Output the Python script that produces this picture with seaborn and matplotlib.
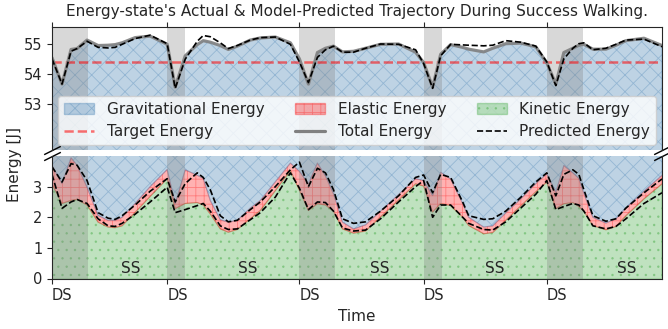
import numpy as np
import pandas as pd
import matplotlib
matplotlib.use("Agg")
import matplotlib.pyplot as plt
import seaborn as sns
from matplotlib.patches import Patch
from matplotlib.lines import Line2D

# ---------------- data ----------------
time = [0.00, 0.10, 0.19, 0.25, 0.35, 0.46, 0.56, 0.63, 0.70, 0.83, 0.98, 1.15,
        1.23, 1.33, 1.45, 1.51, 1.58, 1.68, 1.76, 1.85, 1.98, 2.08, 2.23, 2.38,
        2.47, 2.56, 2.65, 2.73, 2.81, 2.90, 3.01, 3.13, 3.28, 3.46, 3.63, 3.71,
        3.80, 3.88, 3.98, 4.10, 4.16, 4.31, 4.40, 4.53, 4.68, 4.83, 4.94, 5.03,
        5.11, 5.20, 5.26, 5.31, 5.40, 5.53, 5.63, 5.73, 5.91, 6.09]

kinetic_energy = [3.09, 2.45, 2.55, 2.58, 2.40, 1.84, 1.68, 1.66, 1.72, 2.16, 2.68, 3.26,
                  2.28, 2.45, 2.48, 2.40, 2.11, 1.62, 1.51, 1.60, 1.95, 2.22, 2.87, 3.53,
                  2.88, 2.22, 2.44, 2.40, 2.20, 1.62, 1.48, 1.55, 2.01, 2.56, 3.09, 3.02,
                  2.17, 2.45, 2.38, 2.00, 1.73, 1.46, 1.50, 1.90, 2.37, 2.83, 3.15, 2.28,
                  2.44, 2.48, 2.35, 2.20, 1.73, 1.59, 1.70, 2.05, 2.60, 3.09]

elastic_energy = [0.60, 0.65, 1.39, 1.12, 0.58, 0.22, 0.22, 0.24, 0.28, 0.29, 0.32, 0.30,
                  0.16, 1.10, 0.89, 0.87, 0.44, 0.30, 0.33, 0.30, 0.35, 0.33, 0.29, 0.24,
                  0.62, 0.87, 1.33, 0.95, 0.57, 0.22, 0.14, 0.20, 0.19, 0.18, 0.17, 0.18,
                  0.54, 1.02, 0.87, 0.45, 0.27, 0.22, 0.22, 0.24, 0.23, 0.27, 0.27, 0.54,
                  1.25, 0.97, 0.92, 0.58, 0.27, 0.22, 0.25, 0.25, 0.25, 0.28]

total_energy = [54.54, 53.67, 54.81, 54.84, 55.12, 54.94, 54.95, 54.97, 55.03, 55.20, 55.25, 54.98,
                53.57, 54.60, 54.97, 55.10, 55.05, 54.94, 54.81, 54.92, 55.12, 55.19, 55.22, 55.03,
                54.50, 53.67, 54.71, 54.85, 54.92, 54.73, 54.75, 54.85, 54.98, 54.99, 54.72, 54.38,
                53.57, 54.65, 54.97, 54.88, 54.82, 54.73, 54.85, 55.00, 55.02, 54.90, 54.37, 53.67,
                54.71, 54.85, 54.95, 54.98, 54.82, 54.82, 54.95, 55.10, 55.18, 54.94]

pred_total = [54.50, 53.67, 54.75, 54.84, 55.08, 54.88, 54.86, 54.88, 54.98, 55.17, 55.28, 55.00,
              53.53, 54.49, 55.08, 55.27, 55.23, 55.03, 54.84, 54.94, 55.12, 55.20, 55.22, 54.98,
              54.40, 53.72, 54.55, 54.80, 54.92, 54.72, 54.72, 54.85, 54.99, 54.98, 54.80, 54.35,
              53.53, 54.60, 54.98, 54.96, 54.95, 54.93, 54.95, 55.10, 55.05, 54.92, 54.40, 53.62,
              54.50, 54.85, 55.00, 55.03, 54.80, 54.85, 54.98, 55.12, 55.15, 54.90]

pred_kinetic = [3.40, 2.29, 2.50, 2.58, 2.45, 1.95, 1.72, 1.70, 1.80, 2.10, 2.50, 2.98,
                2.15, 2.25, 2.38, 2.45, 2.20, 1.72, 1.60, 1.62, 1.92, 2.15, 2.66, 3.45,
                2.95, 2.25, 2.50, 2.48, 2.20, 1.65, 1.55, 1.58, 1.95, 2.50, 3.00, 3.20,
                2.00, 2.40, 2.40, 2.00, 1.80, 1.60, 1.58, 1.85, 2.30, 2.75, 3.20, 2.25,
                2.35, 2.45, 2.40, 2.20, 1.72, 1.62, 1.70, 1.95, 2.45, 2.80]

pred_kin_elastic = [3.65, 3.15, 3.75, 3.70, 3.20, 2.15, 1.97, 1.93, 2.05, 2.40, 2.85, 3.26,
                    2.50, 3.10, 3.45, 3.30, 2.90, 2.05, 1.85, 1.90, 2.25, 2.50, 3.00, 3.55,
                    3.80, 3.00, 3.60, 3.45, 2.90, 1.95, 1.80, 1.85, 2.20, 2.70, 3.30, 3.38,
                    2.80, 3.40, 3.30, 2.50, 2.05, 1.93, 1.95, 2.20, 2.65, 3.15, 3.45, 2.70,
                    3.40, 3.55, 3.40, 2.90, 2.05, 1.87, 1.95, 2.30, 2.80, 3.25]

target_energy = 54.4
ds_start = [0.00, 1.15, 2.47, 3.71, 4.94]
ds_end = [0.36, 1.33, 2.83, 3.89, 5.30]
ss_label_x = [0.79, 1.95, 3.27, 4.42, 5.74]
x_max = 6.09

df = pd.DataFrame({
    "time": time,
    "kinetic": kinetic_energy,
    "elastic": elastic_energy,
    "total": total_energy,
    "pred_total": pred_total,
    "pred_kin": pred_kinetic,
    "pred_kin_el": pred_kin_elastic,
})
df["kin_el"] = df["kinetic"] + df["elastic"]

# ---------------- style ----------------
sns.set_style("ticks")
plt.rcParams["font.family"] = ["DejaVu Sans"]
plt.rcParams["hatch.linewidth"] = 0.6

BLUE = "steelblue"
RED = "red"
GREEN = "tab:green"

fig = plt.figure(figsize=(6.68, 3.29), dpi=100)
W, H = 668, 329
ax1 = fig.add_axes([52 / W, 1 - 150 / H, 610 / W, 123 / H])
ax2 = fig.add_axes([52 / W, 1 - 278.5 / H, 610 / W, 122.5 / H])

for ax in (ax1, ax2):
    ax.fill_between(df["time"], 0, df["kinetic"], facecolor=GREEN, edgecolor=GREEN,
                    alpha=0.3, hatch="..", lw=0.8)
    ax.fill_between(df["time"], df["kinetic"], df["kin_el"], facecolor=RED, edgecolor=RED,
                    alpha=0.3, hatch="++", lw=0.8)
    ax.fill_between(df["time"], df["kin_el"], df["total"], facecolor=BLUE, edgecolor=BLUE,
                    alpha=0.35, hatch="xx", lw=0.8)
    for s, e in zip(ds_start, ds_end):
        ax.axvspan(s, e, color="gray", alpha=0.3, lw=0)
    ax.axhline(target_energy, color="red", alpha=0.55, ls="--", lw=1.8)
    sns.lineplot(data=df, x="time", y="total", ax=ax, color="gray", lw=2.3, alpha=0.9)
    for col in ("pred_total", "pred_kin", "pred_kin_el"):
        sns.lineplot(data=df, x="time", y=col, ax=ax, color="black", lw=1.2,
                     linestyle="--")
    ax.set_xlim(0, x_max)
    ax.set_ylabel("")
    ax.set_xlabel("")
    ax.tick_params(labelsize=10.5)

ax1.set_ylim(51.5, 55.55)
ax2.set_ylim(0, 4.0)
ax1.set_yticks([53, 54, 55])
ax2.set_yticks([0, 1, 2, 3])

ax1.spines["bottom"].set_visible(False)
ax2.spines["top"].set_visible(False)
ax1.xaxis.tick_top()
ax1.tick_params(labeltop=False)
ax1.set_xticks(ds_start)
ax2.xaxis.tick_bottom()
ax2.set_xticks(ds_start)
ax2.set_xticklabels(["DS"] * len(ds_start), ha="left")

for x in ss_label_x:
    ax2.text(x, 0.33, "SS", ha="center", va="center", fontsize=11)

d = 0.5
kw = dict(marker=[(-1, -d), (1, d)], markersize=12, linestyle="none",
          color="k", mec="k", mew=1, clip_on=False)
ax1.plot([0, 1], [0, 0], transform=ax1.transAxes, **kw)
ax2.plot([0, 1], [1, 1], transform=ax2.transAxes, **kw)

ax1.set_title("Energy-state's Actual & Model-Predicted Trajectory During Success Walking.",
              fontsize=11, pad=8)
ax2.set_xlabel("Time", fontsize=11)
fig.text(15 / W, 0.5, "Energy [J]", rotation=90, ha="center", va="center", fontsize=11)

handles = [
    Patch(facecolor=BLUE, edgecolor=BLUE, alpha=0.35, hatch="xx", label="Gravitational Energy"),
    Line2D([], [], color="red", alpha=0.55, ls="--", lw=1.8, label="Target Energy"),
    Patch(facecolor=RED, edgecolor=RED, alpha=0.3, hatch="++", label="Elastic Energy"),
    Line2D([], [], color="gray", lw=2.3, label="Total Energy"),
    Patch(facecolor=GREEN, edgecolor=GREEN, alpha=0.3, hatch="..", label="Kinetic Energy"),
    Line2D([], [], color="black", ls="--", lw=1.2, label="Predicted Energy"),
]
leg = ax1.legend(handles=handles, ncol=3, loc="lower center", fontsize=11,
                 frameon=True, framealpha=0.8, columnspacing=2.0, borderaxespad=0.3)

fig.savefig("out.png", dpi=100)
